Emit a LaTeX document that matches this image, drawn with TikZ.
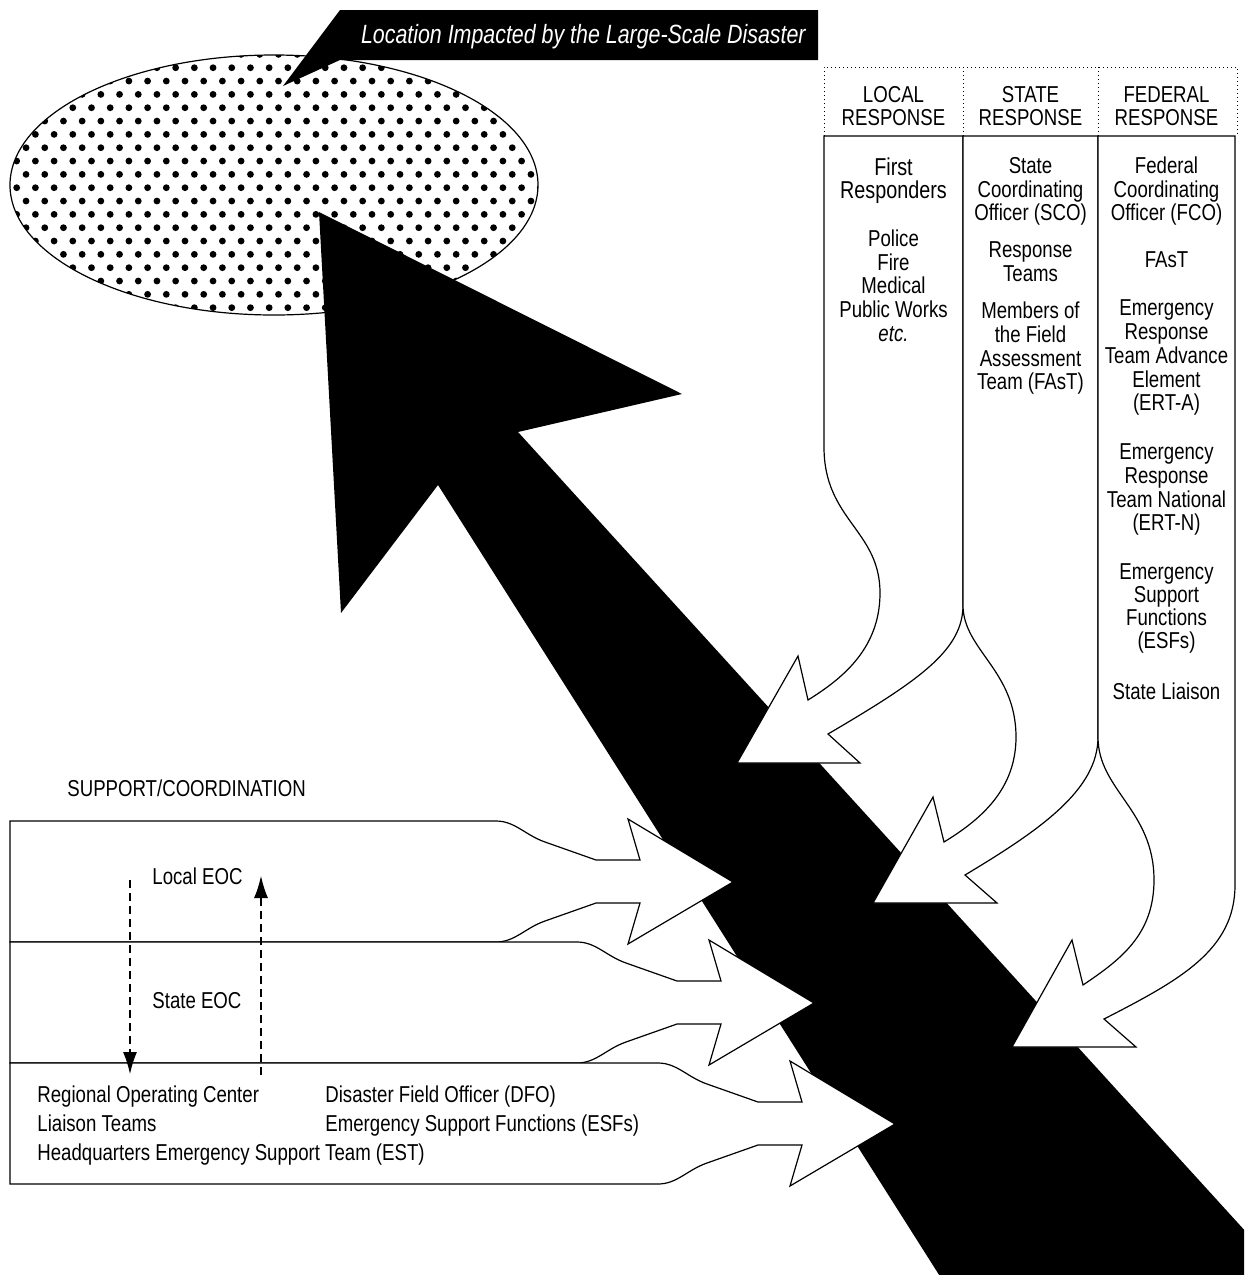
\documentclass[tikz,border=0pt]{standalone}
\usepackage{fontspec}
\setmainfont[FakeStretch=0.81]{Liberation Sans}
\usetikzlibrary{arrows.meta}
\newcommand\colfont{\fontsize{11.5}{12}\selectfont}
\newcommand\bigcolfont{\fontsize{12.2}{12}\selectfont}
\newcommand\calloutfont{\fontsize{13.2}{14}\selectfont}
\begin{document}
\begin{tikzpicture}[x=0.5pt,y=-0.5pt,
  outl/.style={draw=black, line width=0.6pt, fill=white, line join=miter},
  dotline/.style={draw=black, line width=0.5pt, dash pattern=on 0.5pt off 1.5pt},
  coltext/.style={anchor=base, inner sep=0pt, font=\colfont},
  lefttext/.style={anchor=base west, inner sep=0pt, font=\colfont},
  dasharrow/.style={draw=black, line width=0.6pt, dash pattern=on 4pt off 2.5pt, -{Latex[length=11pt,width=7pt]}}]
\useasboundingbox (0,0) rectangle (1244,1275);
\fill[white] (0,0) rectangle (1244,1275);

% ---------- impacted location (dotted ellipse) ----------
\fill[white] (274,185) ellipse [x radius=264, y radius=130];
\begin{scope}
  \clip (274,185) ellipse [x radius=264, y radius=130];
  \foreach \j in {-10,...,10}{
    \pgfmathsetmacro\rowy{187.7+13.33*\j}
    \pgfmathsetmacro\rowx{mod(\j+20,2)*9.35}
    \foreach \i in {0,...,28}{
      \fill ({16.7+\rowx+18.7*\i},\rowy) circle [radius=3.4];
    }
  }
\end{scope}
\draw[line width=0.6pt] (274,185) ellipse [x radius=264, y radius=130];

% ---------- callout ----------
\fill[black] (340,10) -- (818,10) -- (818,60) -- (340,60) -- (283,86) -- cycle;
\node[anchor=base east, inner sep=0pt, text=white, font=\calloutfont\itshape] (callout) at (806,43) {Location Impacted by the Large-Scale Disaster};

% ---------- big black arrow ----------
\begin{scope}
  \clip (0,0) rectangle (1244,1275);
  \fill[black] (319,212) -- (682,394) -- (518,432) -- (1308,1300) -- (955,1300) -- (438,485) -- (341,613) -- cycle;
\end{scope}

% ---------- response columns ----------
% local
\draw[outl] (824,136) -- (963,136) -- (963,605)
  .. controls (963,650) and (920,680) .. (828,734)
  -- (860,763) -- (737,763) -- (798,656) -- (808,700)
  .. controls (840,680) and (880,650) .. (880,593)
  .. controls (880,530) and (824,520) .. (824,447) -- cycle;
% state
\draw[outl] (963,136) -- (1098,136) -- (1098,737)
  .. controls (1098,790) and (1040,830) .. (965,875)
  -- (997,903) -- (873,903) -- (933,797) -- (944,842)
  .. controls (980,820) and (1016,790) .. (1016,737)
  .. controls (1016,670) and (963,650) .. (963,605) -- cycle;
% federal
\draw[outl] (1098,136) -- (1235,136) -- (1235,885)
  .. controls (1235,950) and (1180,980) .. (1104,1019)
  -- (1136,1047) -- (1012,1047) -- (1072,940) -- (1083,985)
  .. controls (1120,960) and (1154,935) .. (1154,880)
  .. controls (1154,810) and (1098,790) .. (1098,737) -- cycle;

% header (dotted)
\draw[dotline] (824,136) -- (824,67) -- (1237,67) -- (1237,136);
\draw[dotline] (963,67) -- (963,136);
\draw[dotline] (1098,67) -- (1098,136);

% header texts
\node[coltext] (hL1) at (893.5,102) {LOCAL};
\node[coltext] (hL2) at (893.5,125) {RESPONSE};
\node[coltext] (hS1) at (1030.5,102) {STATE};
\node[coltext] (hS2) at (1030.5,125) {RESPONSE};
\node[coltext] (hF1) at (1166.5,102) {FEDERAL};
\node[coltext] (hF2) at (1166.5,125) {RESPONSE};

% local column text
\node[coltext, font=\bigcolfont] (loc1) at (893.5,175) {First};
\node[coltext, font=\bigcolfont] (loc2) at (893.5,198) {Responders};
\foreach \t/\yy [count=\k] in {Police/246, Fire/270, Medical/293, Public Works/317, {\itshape etc.}/341}
  \node[coltext] (locb\k) at (893.5,\yy) {\t};

% state column text
\foreach \t/\yy [count=\k] in {State/173, Coordinating/197, Officer (SCO)/220, Response/257, Teams/281,
  Members of/318, the Field/342, Assessment/366, Team (FAsT)/389}
  \node[coltext] (st\k) at (1030.5,\yy) {\t};

% federal column text
\foreach \t/\yy [count=\k] in {Federal/173, Coordinating/197, Officer (FCO)/220, FAsT/267,
  Emergency/315, Response/339, Team Advance/363, Element/387, (ERT-A)/410,
  Emergency/459, Response/483, Team National/507, (ERT-N)/530,
  Emergency/579, Support/602, Functions/625, (ESFs)/648, State Liaison/699}
  \node[coltext] (fe\k) at (1166.5,\yy) {\t};

% ---------- support / coordination bands ----------
\foreach \k in {0,1,2}{
  \pgfmathsetmacro\dx{81*\k}
  \pgfmathsetmacro\dy{121*\k}
  \draw[outl] (10,{821+\dy}) -- ({496+\dx},{821+\dy})
    .. controls ({515+\dx},{821+\dy}) and ({525+\dx},{835+\dy}) .. ({545+\dx},{842+\dy})
    -- ({596+\dx},{860+\dy}) -- ({640+\dx},{860+\dy}) -- ({628+\dx},{819+\dy})
    -- ({733+\dx},{882+\dy}) -- ({628+\dx},{944+\dy}) -- ({640+\dx},{903+\dy})
    -- ({596+\dx},{903+\dy}) -- ({545+\dx},{921+\dy})
    .. controls ({525+\dx},{928+\dy}) and ({515+\dx},{942+\dy}) .. ({496+\dx},{942+\dy})
    -- (10,{942+\dy}) -- cycle;
}

\node[lefttext] (supp) at (67,796) {SUPPORT/COORDINATION};
\node[lefttext] (leoc) at (152,884) {Local EOC};
\node[lefttext] (seoc) at (152,1008) {State EOC};
\node[lefttext] (roc) at (37,1102) {Regional Operating Center};
\node[lefttext] (liai) at (37,1131) {Liaison Teams};
\node[lefttext] (hq) at (37,1160) {Headquarters Emergency Support Team (EST)};
\node[lefttext] (dfo) at (325,1102) {Disaster Field Officer (DFO)};
\node[lefttext] (esf) at (325,1131) {Emergency Support Functions (ESFs)};

% dashed arrows
\coordinate (dnA) at (130,880);
\coordinate (dnB) at (130,1074);
\coordinate (upA) at (261,1075);
\coordinate (upB) at (261,876);
\draw[dasharrow] (dnA) -- (dnB);
\draw[dasharrow] (upA) -- (upB);
\end{tikzpicture}
\end{document}
